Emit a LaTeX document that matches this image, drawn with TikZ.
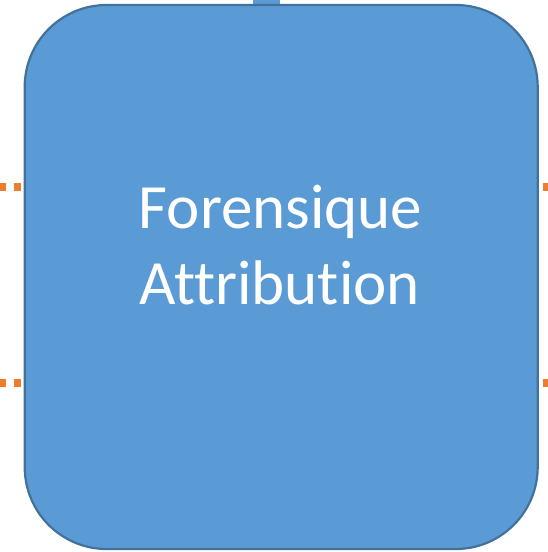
\documentclass[tikz,border=0pt]{standalone}
\usepackage{fontspec}
\setmainfont[Ligatures=NoCommon]{Carlito}
\definecolor{boxfill}{HTML}{5B9BD5}
\definecolor{boxline}{HTML}{41719C}
\definecolor{orangeline}{HTML}{ED7D31}
\begin{document}
\begin{tikzpicture}[x=1pt,y=1pt,
  mainbox/.style={draw=boxline, fill=boxfill, line width=2.2pt, rounded corners=82pt,
    minimum width=513pt, minimum height=544pt, inner sep=0pt},
  boxtext/.style={text=white, inner sep=0pt, anchor=base, font=\fontsize{63}{76}\selectfont},
  orangedash/.style={draw=orangeline, line width=7.5pt, dash pattern=on 7pt off 8pt},
  topline/.style={draw=boxfill, line width=27pt}]
\useasboundingbox (0,0) rectangle (547,552);
\coordinate (T) at (266.5,560);
\coordinate (L1) at (-20,365);
\coordinate (L2) at (-20,169);
\coordinate (R1) at (570,365);
\coordinate (R2) at (570,169);
\draw[topline] (T) -- (266.5,540);
\node[mainbox] (box) at (281.2,275) {};
\node[boxtext] (line1) at (280.5,323) {Forensique};
\node[boxtext] (line2) at (279.5,247) {Attribution};
\draw[orangedash, dash phase=12pt] (box.west |- L1) -- (L1);
\draw[orangedash, dash phase=12pt] (box.west |- L2) -- (L2);
\draw[orangedash, dash phase=11pt] (box.east |- R1) -- (R1);
\draw[orangedash, dash phase=11pt] (box.east |- R2) -- (R2);
\end{tikzpicture}
\end{document}
